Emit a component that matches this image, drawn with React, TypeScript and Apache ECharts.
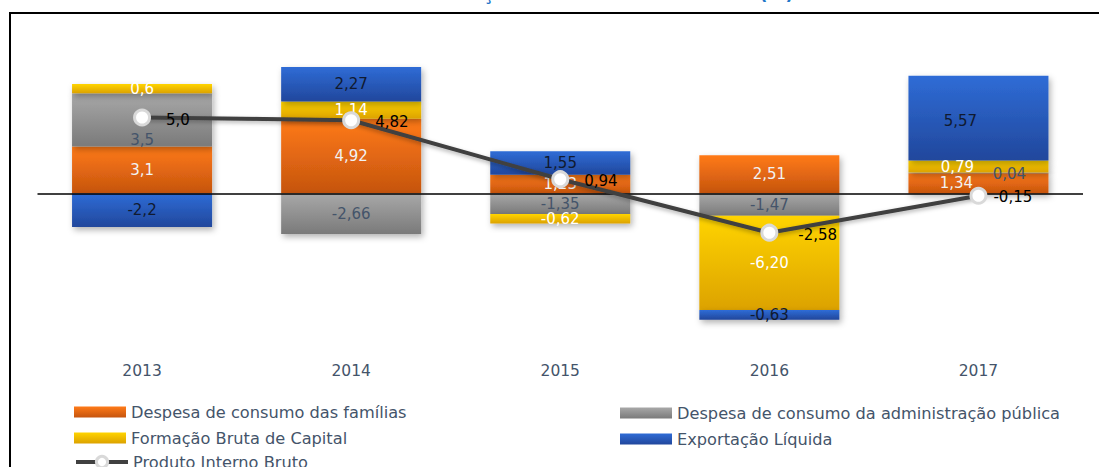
import React, { useEffect, useRef } from "react";
import * as echarts from "echarts";

const categories = ["2013", "2014", "2015", "2016", "2017"];
const decimals = [1, 2, 2, 2, 2];
const familias = [3.1, 4.92, 1.23, 2.51, 1.34];
const administracao = [3.5, -2.66, -1.35, -1.47, 0.04];
const capital = [0.6, 1.14, -0.62, -6.2, 0.79];
const exportacao = [-2.2, 2.27, 1.55, -0.63, 5.57];
const pib = [5.0, 4.82, 0.94, -2.58, -0.15];

const names = {
  familias: "Despesa de consumo das famílias",
  administracao: "Despesa de consumo da administração pública",
  capital: "Formação Bruta de Capital",
  exportacao: "Exportação Líquida",
  pib: "Produto Interno Bruto",
};

const FONT = "DejaVu Sans";

const fmt = (v: number, i: number) => v.toFixed(decimals[i]).replace(".", ",");

const grad = (top: string, bottom: string) =>
  new echarts.graphic.LinearGradient(0, 0, 0, 1, [
    { offset: 0, color: top },
    { offset: 1, color: bottom },
  ]);

export default function App() {
  const ref = useRef<HTMLDivElement>(null);

  useEffect(() => {
    if (!ref.current) return;
    const chart = echarts.init(ref.current, undefined, { renderer: "svg" });

    const barSeries = (
      key: keyof typeof names,
      values: number[],
      top: string,
      bottom: string,
      labelColor: string,
      offsets: Record<number, number[]>,
      extra: any = {}
    ) => ({
      name: names[key],
      type: "bar",
      stack: "total",
      barWidth: 140,
      data: values.map((v, i) => ({
        value: v,
        label: offsets[i] ? { offset: offsets[i] } : undefined,
      })),
      itemStyle: {
        color: grad(top, bottom),
        shadowBlur: 6,
        shadowOffsetX: 2,
        shadowOffsetY: 3,
        shadowColor: "rgba(0,0,0,0.3)",
      },
      label: {
        show: true,
        position: "inside",
        color: labelColor,
        fontFamily: FONT,
        fontSize: 15,
        formatter: (p: any) => fmt(p.value, p.dataIndex),
      },
      ...extra,
    });

    const legendText = { fontSize: 16.2, color: "#44546a", fontFamily: FONT, lineHeight: 18 };
    const legendItem = (name: string, left: number, top: number, isLine = false) => ({
      data: [isLine ? { name } : { name, icon: "rect" }],
      orient: "horizontal",
      left,
      top,
      padding: 0,
      itemWidth: 52,
      itemHeight: isLine ? 14 : 11,
      textStyle: legendText,
      ...(isLine
        ? {
            lineStyle: { width: 4, color: "#404040", shadowBlur: 0 },
            itemStyle: { color: "#ffffff", borderColor: "#d9d9d9", borderWidth: 3 },
          }
        : {}),
    });

    const option: any = {
      animation: false,
      textStyle: { fontFamily: FONT },
      graphic: [
        {
          type: "rect",
          shape: { x: 10, y: 13, width: 1300, height: 700 },
          style: { fill: "none", stroke: "#000", lineWidth: 2 },
          silent: true,
          z: 0,
        },
        {
          type: "text",
          x: 535,
          y: 2,
          style: {
            text: "Gráfico 1 – Contribuição ao Crescimento do PIB (%)",
            align: "center",
            verticalAlign: "bottom",
            fill: "#1f77c9",
            font: `bold 18px "${FONT}"`,
          },
          silent: true,
        },
      ],
      grid: { left: 37.5, right: 16, top: 41.5, bottom: 121.5 },
      xAxis: {
        type: "category",
        data: categories,
        axisLine: { show: false, onZero: false },
        axisTick: { show: false },
        axisLabel: { margin: 17, fontSize: 15.5, color: "#44546a", fontFamily: FONT },
      },
      yAxis: {
        type: "value",
        min: -10,
        max: 10,
        show: false,
        splitLine: { show: false },
      },
      legend: [
        legendItem(names.familias, 74, 403),
        legendItem(names.capital, 74, 429),
        legendItem(names.pib, 74, 453, true),
        legendItem(names.administracao, 620, 404),
        legendItem(names.exportacao, 620, 430),
      ],
      series: [
        barSeries("familias", familias, "#ff7a18", "#c5540e", "#f2f2f2", { 4: [-22, 0] }),
        barSeries("administracao", administracao, "#a8a8a8", "#7a7a7a", "#44546a", {
          0: [0, 20],
          4: [31, 1],
        }),
        barSeries("capital", capital, "#ffd400", "#dca200", "#ffffff", { 4: [-21, 0] }),
        barSeries("exportacao", exportacao, "#2f6cd6", "#21479c", "#101a30", { 4: [-18, 3] }, {
          markLine: {
            silent: true,
            symbol: "none",
            label: { show: false },
            lineStyle: { color: "#000", width: 1.5, type: "solid" },
            data: [{ yAxis: 0 }],
          },
        }),
        {
          name: names.pib,
          type: "line",
          data: pib.map((v, i) => ({
            value: v,
            label: i === 4 ? { offset: [-9, 1] } : i === 3 ? { offset: [5, 2] } : undefined,
          })),
          z: 5,
          symbol: "circle",
          symbolSize: 15,
          lineStyle: {
            color: "#404040",
            width: 4,
            shadowBlur: 4,
            shadowOffsetY: 2,
            shadowColor: "rgba(0,0,0,0.3)",
          },
          itemStyle: { color: "#ffffff", borderColor: "#d9d9d9", borderWidth: 3 },
          label: {
            show: true,
            position: "right",
            distance: 15,
            offset: [0, 2],
            color: "#000",
            fontFamily: FONT,
            fontSize: 15,
            formatter: (p: any) => fmt(p.value, p.dataIndex),
          },
        },
      ],
    };

    chart.setOption(option);
    return () => chart.dispose();
  }, []);

  return (
    <div
      ref={ref}
      style={{ position: "fixed", left: 0, top: 0, width: 1099, height: 467, background: "#fff" }}
    />
  );
}
